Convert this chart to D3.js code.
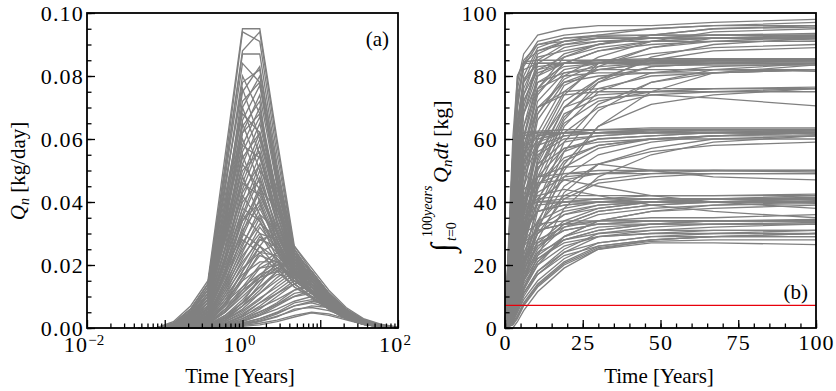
<!DOCTYPE html>
<html>
<head>
<meta charset="utf-8">
<script src="https://cdn.jsdelivr.net/npm/d3@7"></script>
<style>
  body { margin: 0; background: #fff; }
  svg { display: block; }
</style>
</head>
<body>
<svg id="chart" width="836" height="391"></svg>
<script>
// ---- panel (a): Q_n [kg/day] vs time (log axis) ----
// sample times in years
const timeA = [0.0464, 0.0774, 0.129, 0.215, 0.359, 0.599, 1.0, 1.668, 2.78, 4.64, 7.74, 12.9, 21.5, 35.9, 59.9, 100];

// one row per simulated source, values in kg/day
const rateCurves = [
  [0,0,0.002,0.007,0.015,0.055,0.095,0.095,0.060,0.026,0.018,0.011,0.006,0.0025,0.001,0.0002],
  [0,0,0.0015,0.006,0.014,0.050,0.087,0.087,0.052,0.024,0.016,0.010,0.005,0.002,0.0008,0.0002],
  [0,0,0.0015,0.006,0.014,0.052,0.094,0.091,0.055,0.025,0.017,0.010,0.005,0.002,0.0008,0.0002],
  [0,0,0.0015,0.006,0.014,0.050,0.088,0.094,0.058,0.025,0.017,0.010,0.005,0.002,0.0008,0.0002],
  [0,0,0.001,0.005,0.013,0.046,0.076,0.060,0.038,0.022,0.015,0.009,0.0045,0.002,0.0007,0.0001],
  [0,0,0.0012,0.005,0.012,0.044,0.080,0.068,0.042,0.022,0.015,0.009,0.0045,0.0019,0.0007,0.0001],
  [0,0,0.0012,0.0055,0.013,0.048,0.084,0.078,0.048,0.023,0.016,0.0095,0.0048,0.002,0.0007,0.0001],
  [0,0,0.0011,0.005,0.012,0.045,0.078,0.082,0.050,0.024,0.016,0.0095,0.0048,0.002,0.0007,0.0001],
  [0,0,0.001,0.0045,0.011,0.040,0.072,0.078,0.047,0.023,0.016,0.0095,0.0048,0.002,0.0007,0.0001],
  [0,0,0.001,0.0045,0.011,0.040,0.068,0.062,0.040,0.021,0.015,0.009,0.0045,0.0019,0.0007,0.0001],
  [0,0,0.001,0.005,0.012,0.042,0.070,0.055,0.034,0.020,0.014,0.008,0.004,0.0018,0.0006,0.0001],
  [0,0,0.001,0.004,0.011,0.038,0.065,0.050,0.030,0.018,0.013,0.008,0.004,0.0016,0.0006,0.0001],
  [0,0,0.0009,0.004,0.010,0.036,0.062,0.068,0.042,0.022,0.015,0.009,0.0045,0.0018,0.0007,0.0001],
  [0,0,0.001,0.004,0.010,0.035,0.060,0.046,0.028,0.017,0.012,0.007,0.0035,0.0015,0.0005,0.0001],
  [0,0,0.0009,0.004,0.010,0.035,0.058,0.054,0.036,0.020,0.014,0.0085,0.0042,0.0017,0.0006,0.0001],
  [0,0,0.001,0.004,0.009,0.032,0.055,0.040,0.025,0.016,0.011,0.007,0.0035,0.0014,0.0005,0.0001],
  [0,0,0.0008,0.0035,0.009,0.031,0.054,0.062,0.040,0.021,0.014,0.0085,0.0042,0.0017,0.0006,0.0001],
  [0,0,0.0009,0.0035,0.009,0.030,0.052,0.044,0.028,0.017,0.012,0.007,0.0035,0.0015,0.0005,0.0001],
  [0,0,0.0008,0.003,0.008,0.029,0.050,0.056,0.036,0.020,0.014,0.008,0.004,0.0016,0.0006,0.0001],
  [0,0,0.001,0.003,0.008,0.028,0.048,0.036,0.024,0.015,0.011,0.006,0.003,0.0013,0.0005,0.0001],
  [0,0,0.0008,0.003,0.008,0.028,0.046,0.042,0.030,0.018,0.013,0.008,0.004,0.0016,0.0006,0.0001],
  [0,0,0.0007,0.0028,0.007,0.025,0.043,0.052,0.034,0.019,0.013,0.008,0.004,0.0016,0.0006,0.0001],
  [0,0,0.0008,0.003,0.007,0.025,0.042,0.034,0.022,0.014,0.010,0.006,0.003,0.0012,0.0004,0.0001],
  [0,0,0.0007,0.0026,0.0065,0.023,0.040,0.047,0.032,0.019,0.013,0.0078,0.0039,0.0016,0.0006,0.0001],
  [0,0,0.0006,0.0024,0.006,0.021,0.038,0.034,0.025,0.016,0.011,0.0068,0.0034,0.0014,0.0005,0.0001],
  [0,0,0.0007,0.0025,0.006,0.022,0.036,0.030,0.021,0.014,0.010,0.006,0.003,0.0012,0.0004,0.0001],
  [0,0,0.0006,0.0022,0.0055,0.020,0.034,0.043,0.030,0.018,0.012,0.0072,0.0036,0.0015,0.0005,0.0001],
  [0,0,0.0005,0.002,0.005,0.018,0.031,0.039,0.028,0.017,0.012,0.007,0.0035,0.0014,0.0005,0.0001],
  [0,0,0.0006,0.002,0.005,0.018,0.030,0.026,0.019,0.013,0.010,0.006,0.003,0.0012,0.0004,0.0001],
  [0,0,0.0005,0.0019,0.0048,0.017,0.028,0.024,0.018,0.013,0.0095,0.006,0.003,0.0012,0.0004,0.0001],
  [0,0,0.001,0.004,0.010,0.038,0.075,0.083,0.050,0.025,0.017,0.010,0.005,0.002,0.0008,0.0002],
  [0,0,0.001,0.004,0.010,0.036,0.070,0.080,0.048,0.024,0.016,0.010,0.005,0.002,0.0008,0.0002],
  [0,0,0.001,0.004,0.009,0.034,0.066,0.077,0.046,0.023,0.016,0.0095,0.005,0.002,0.0007,0.0002],
  [0,0,0.001,0.003,0.009,0.032,0.062,0.074,0.045,0.023,0.015,0.009,0.0045,0.002,0.0007,0.0001],
  [0,0,0.001,0.0035,0.009,0.033,0.064,0.072,0.036,0.020,0.014,0.0085,0.004,0.0017,0.0006,0.0001],
  [0,0,0.001,0.003,0.008,0.030,0.058,0.070,0.042,0.022,0.015,0.009,0.0045,0.0018,0.0007,0.0001],
  [0,0,0.0008,0.003,0.008,0.028,0.056,0.067,0.040,0.021,0.014,0.0085,0.004,0.0018,0.0006,0.0001],
  [0,0,0.0008,0.003,0.007,0.026,0.052,0.065,0.040,0.021,0.014,0.008,0.004,0.0017,0.0006,0.0001],
  [0,0,0.0008,0.003,0.007,0.025,0.048,0.062,0.038,0.020,0.013,0.008,0.004,0.0016,0.0006,0.0001],
  [0,0,0.0007,0.0025,0.006,0.023,0.046,0.060,0.044,0.023,0.015,0.009,0.0045,0.0018,0.0007,0.0001],
  [0,0,0.0007,0.0025,0.006,0.022,0.044,0.058,0.036,0.020,0.013,0.008,0.004,0.0016,0.0006,0.0001],
  [0,0,0.0007,0.0025,0.006,0.021,0.041,0.055,0.034,0.019,0.013,0.0075,0.0038,0.0015,0.0005,0.0001],
  [0,0,0.0006,0.0022,0.005,0.019,0.038,0.052,0.033,0.019,0.013,0.0075,0.0038,0.0015,0.0005,0.0001],
  [0,0,0.0005,0.002,0.005,0.018,0.036,0.050,0.042,0.022,0.015,0.009,0.0045,0.0018,0.0007,0.0001],
  [0,0,0.0006,0.002,0.005,0.018,0.035,0.048,0.031,0.018,0.012,0.007,0.0035,0.0014,0.0005,0.0001],
  [0,0,0.0005,0.002,0.005,0.016,0.032,0.045,0.030,0.018,0.012,0.007,0.0035,0.0014,0.0005,0.0001],
  [0,0,0.0004,0.0015,0.004,0.014,0.030,0.044,0.038,0.021,0.015,0.009,0.0045,0.0018,0.0007,0.0001],
  [0,0,0.0005,0.0018,0.004,0.015,0.029,0.041,0.028,0.017,0.012,0.007,0.0035,0.0014,0.0005,0.0001],
  [0,0,0.0005,0.0018,0.0045,0.017,0.034,0.040,0.026,0.016,0.011,0.0065,0.0032,0.0013,0.0005,0.0001],
  [0,0,0.0004,0.0015,0.004,0.013,0.026,0.038,0.027,0.017,0.012,0.007,0.0034,0.0013,0.0005,0.0001],
  [0,0,0.0004,0.0016,0.0042,0.015,0.027,0.036,0.031,0.019,0.013,0.0075,0.0037,0.0015,0.0005,0.0001],
  [0,0,0.0004,0.0014,0.0035,0.012,0.024,0.035,0.026,0.017,0.012,0.0068,0.0033,0.0013,0.0005,0.0001],
  [0,0,0.0004,0.0015,0.004,0.014,0.025,0.033,0.029,0.019,0.013,0.0075,0.0037,0.0015,0.0005,0.0001],
  [0,0,0.0003,0.0012,0.003,0.011,0.022,0.032,0.025,0.016,0.011,0.0065,0.0032,0.0013,0.0004,0.0001],
  [0,0,0.0004,0.0014,0.0036,0.013,0.023,0.030,0.028,0.018,0.012,0.007,0.0035,0.0014,0.0005,0.0001],
  [0,0,0.0003,0.001,0.0028,0.010,0.020,0.029,0.024,0.016,0.011,0.0065,0.0032,0.0012,0.0004,0.0001],
  [0,0,0.0003,0.0012,0.0032,0.012,0.021,0.028,0.026,0.018,0.012,0.007,0.0035,0.0014,0.0005,0.0001],
  [0,0,0.0003,0.001,0.0025,0.009,0.018,0.026,0.022,0.015,0.011,0.006,0.003,0.0012,0.0004,0.0001],
  [0,0,0.0003,0.0011,0.003,0.011,0.019,0.024,0.023,0.017,0.012,0.007,0.0035,0.0014,0.0005,0.0001],
  [0,0,0.0002,0.0008,0.002,0.008,0.016,0.023,0.021,0.015,0.011,0.006,0.003,0.0012,0.0004,0.0001],
  [0,0,0.0003,0.001,0.0027,0.010,0.017,0.021,0.021,0.016,0.0115,0.0068,0.0034,0.0014,0.0005,0.0001],
  [0,0,0.0002,0.0009,0.0024,0.009,0.015,0.019,0.020,0.016,0.0115,0.0068,0.0034,0.0014,0.0005,0.0001],
  [0,0,0.0002,0.0008,0.0021,0.008,0.013,0.017,0.019,0.016,0.012,0.007,0.0036,0.0015,0.0005,0.0001],
  [0,0,0.0002,0.0007,0.0018,0.007,0.012,0.016,0.018,0.017,0.013,0.0075,0.0038,0.0015,0.0006,0.0001],
  [0,0,0.0002,0.0008,0.002,0.008,0.018,0.028,0.030,0.020,0.013,0.0075,0.0037,0.0015,0.0005,0.0001],
  [0,0,0.0002,0.0007,0.002,0.0075,0.016,0.026,0.033,0.022,0.014,0.008,0.004,0.0016,0.0006,0.0001],
  [0,0,0.0002,0.0006,0.0018,0.007,0.015,0.024,0.027,0.019,0.013,0.0075,0.0037,0.0015,0.0005,0.0001],
  [0,0,0.0001,0.0005,0.0015,0.006,0.013,0.020,0.024,0.019,0.013,0.007,0.0035,0.0014,0.0005,0.0001],
  [0,0,0.0001,0.0004,0.0013,0.0055,0.012,0.019,0.022,0.017,0.012,0.007,0.0035,0.0014,0.0005,0.0001],
  [0,0,0.0001,0.0004,0.0012,0.005,0.011,0.017,0.021,0.018,0.013,0.007,0.0035,0.0014,0.0005,0.0001],
  [0,0,0.0001,0.0003,0.001,0.004,0.009,0.015,0.019,0.017,0.012,0.007,0.0035,0.0014,0.0005,0.0001],
  [0,0,0.0001,0.0003,0.0008,0.0035,0.008,0.013,0.017,0.016,0.012,0.0068,0.0034,0.0014,0.0005,0.0001],
  [0,0,0.0002,0.0006,0.0015,0.006,0.011,0.016,0.020,0.021,0.016,0.0095,0.0048,0.002,0.0007,0.0002],
  [0,0,0.0001,0.0005,0.0012,0.005,0.010,0.015,0.019,0.022,0.017,0.010,0.0052,0.0021,0.0008,0.0002],
  [0,0,0.0001,0.0004,0.001,0.004,0.008,0.013,0.018,0.023,0.018,0.011,0.0055,0.0023,0.0009,0.0002],
  [0,0,0,0.0002,0.0006,0.003,0.008,0.016,0.024,0.026,0.019,0.012,0.0065,0.003,0.0012,0.0003],
  [0,0,0,0.0002,0.0005,0.0025,0.007,0.014,0.021,0.024,0.018,0.011,0.006,0.0027,0.001,0.0003],
  [0,0,0,0.0003,0.0008,0.003,0.007,0.012,0.018,0.022,0.017,0.010,0.005,0.0021,0.0008,0.0002],
  [0,0,0,0.0002,0.0006,0.0025,0.006,0.011,0.016,0.020,0.018,0.011,0.0055,0.0022,0.0008,0.0002],
  [0,0,0.0001,0.0003,0.0008,0.0032,0.007,0.011,0.015,0.019,0.018,0.011,0.0058,0.0024,0.0009,0.0002],
  [0,0,0,0.0002,0.0005,0.002,0.005,0.009,0.014,0.018,0.017,0.011,0.0055,0.0022,0.0008,0.0002],
  [0,0,0,0.0002,0.0006,0.0025,0.0055,0.0095,0.013,0.017,0.017,0.011,0.0058,0.0024,0.0009,0.0002],
  [0,0,0,0.0001,0.0004,0.0015,0.004,0.008,0.012,0.016,0.016,0.010,0.005,0.002,0.0008,0.0002],
  [0,0,0,0.0001,0.0003,0.0015,0.0035,0.007,0.011,0.015,0.014,0.009,0.0048,0.002,0.0007,0.0002],
  [0,0,0,0.0002,0.0005,0.002,0.0045,0.008,0.011,0.014,0.016,0.011,0.0058,0.0024,0.0009,0.0002],
  [0,0,0,0.0001,0.0003,0.0012,0.003,0.006,0.010,0.014,0.015,0.010,0.005,0.002,0.0008,0.0002],
  [0,0,0,0.0001,0.0004,0.0016,0.0038,0.0065,0.009,0.012,0.014,0.0105,0.0056,0.0023,0.0009,0.0002],
  [0,0,0,0.0001,0.0002,0.001,0.0025,0.005,0.008,0.012,0.013,0.009,0.0048,0.002,0.0007,0.0002],
  [0,0,0,0.0001,0.0003,0.0012,0.003,0.0052,0.0075,0.010,0.012,0.0095,0.0052,0.0022,0.0008,0.0002],
  [0,0,0,0,0.0002,0.0009,0.0022,0.0045,0.0075,0.011,0.012,0.0085,0.0045,0.0019,0.0007,0.0002],
  [0,0,0,0,0.0002,0.0008,0.002,0.004,0.007,0.010,0.011,0.008,0.0045,0.0019,0.0007,0.0002],
  [0,0,0,0.0001,0.0002,0.0009,0.0022,0.004,0.006,0.0085,0.010,0.0085,0.0048,0.002,0.0008,0.0002],
  [0,0,0,0,0.0001,0.0006,0.0015,0.003,0.005,0.008,0.009,0.007,0.004,0.0017,0.0006,0.0002],
  [0,0,0,0,0.0002,0.0007,0.0017,0.003,0.0048,0.007,0.0085,0.0075,0.0044,0.0019,0.0007,0.0002],
  [0,0,0,0,0.0001,0.0005,0.0013,0.0025,0.0045,0.007,0.008,0.0065,0.0038,0.0016,0.0006,0.0001],
  [0,0,0,0,0.0001,0.0005,0.0012,0.0022,0.0038,0.0055,0.007,0.0065,0.004,0.0017,0.0007,0.0001],
  [0,0,0,0,0.0001,0.0004,0.001,0.002,0.0035,0.006,0.0065,0.0055,0.0035,0.0015,0.0006,0.0001],
  [0,0,0,0,0.0001,0.0003,0.0008,0.0015,0.0025,0.004,0.005,0.0045,0.003,0.0013,0.0005,0.0001],
  [0,0,0,0,0,0.0002,0.0005,0.001,0.002,0.0035,0.0048,0.004,0.0026,0.0012,0.0005,0.0001]
];

const yTicksA = [0, 0.02, 0.04, 0.06, 0.08, 0.10];
const yTickLabelsA = ["0.00", "0.02", "0.04", "0.06", "0.08", "0.10"];
const xDecadesA = [0.01, 0.1, 1, 10, 100];
const xLabelExpA = [[0.01, "\u22122"], [1, "0"], [100, "2"]];

// ---- panel (b): cumulative mass [kg] vs time (linear axis) ----
const timeB = [0, 2.5, 4, 6, 10.5, 19, 30, 47, 67, 100];

const massCurves = [
  [0,50,78,87,93,95,96,96,97,98],
  [0,42,70,84,91,93,94,95,96,97],
  [0,30,55,74,87,91,93,95,96,96],
  [0,34,60,76,86,88,90,93,95,95.5],
  [0,20,40,60,80,87,90,93,95,96],
  [0,12,26,45,68,80,86,91,94,95],
  [0,55,76,85,90,92,93,93,93,93.5],
  [0,45,70,83,90,91,92,92,92,92],
  [0,40,64,80,89,92,92.5,93,93,93],
  [0,36,62,78,88,91,92,92,93,92.5],
  [0,28,52,70,85,90,92,92,92,91.5],
  [0,26,48,68,84,89,91,92,93,93],
  [0,18,36,55,74,84,88,91,92,93],
  [0,16,34,54,76,86,90,92,92,92.5],
  [0,10,22,38,60,75,83,89,92,92],
  [0,9,20,36,58,74,84,89,91,92.5],
  [0,6,14,27,48,66,78,86,90,92],
  [0,32,56,72,82,86,89,91,92,92],
  [0,48,72,84,88,90,91,91,91,91],
  [0,22,42,60,76,84,88,90,91,91],
  [0,14,30,48,68,79,84,87,89,90],
  [0,8,18,32,54,70,79,85,88,89],
  [0,52,74,82,84,84,84,84,84,84],
  [0,55,80,84.5,85,85,85,85,85,85],
  [0,44,66,79,84,84,84,85,85,85],
  [0,40,62,78,84,84,84.5,84.5,84.5,84.5],
  [0,36,58,74,83,84,84,84,84,84],
  [0,32,54,72,82,84,85,85.5,85.5,85.5],
  [0,28,50,68,81,84,84,85,85,85],
  [0,26,46,64,80,84,84,83.5,83.5,83.5],
  [0,22,42,61,78,83,84,84,85,85],
  [0,18,37,57,75,82,84,84.5,85,85.5],
  [0,16,33,52,72,81,83,84,84,85],
  [0,12,26,44,66,78,82,84,85,85],
  [0,10,23,40,62,77,82,84,84.5,84.5],
  [0,8,19,35,57,72,79,83,84,85],
  [0,7,17,31,53,70,78,83,84,84],
  [0,5,13,26,46,64,75,81,83,84],
  [0,3,9,19,37,56,69,78,82,84],
  [0,2,7,15,31,50,64,75,81,83.5],
  [0,60,80,84,84,84,85,85,85,85],
  [0,14,30,50,70,78,80,81,81,82],
  [0,6,15,29,50,67,76,80,81,82],
  [0,4,10,21,40,59,71,78,81,82],
  [0,25,46,64,76,80,81,81,82,82],
  [0,30,52,68,78,81,82,82,82,81.5],
  [0,10,22,38,58,70,74,75,76,76],
  [0,5,13,25,44,62,70,74,75,76],
  [0,20,40,58,70,74,75,75,75,75],
  [0,18,36,54,70,75,76,76,76,76.5],
  [0,7,16,30,50,65,72,75,76,76],
  [0,3,8,17,33,52,64,71,74,76],
  [0,8,18,32,52,68,73,74,73,70.5],
  [0,45,58,61,62,62,62,63,63,63],
  [0,50,60,62,62,62,62,62,62,62],
  [0,48,60,62,62.5,63,63,63,63,63],
  [0,42,56,61,62,63,63,63.5,63.5,63.5],
  [0,38,53,60,62,62,62,62,62,62],
  [0,34,50,58,61.5,62,62,62,62,62],
  [0,30,47,57,61,62,62,62,63,63],
  [0,27,44,55,61,62,62,62.5,62.5,62.5],
  [0,24,41,53,60,62,62,62,62,62],
  [0,21,37,50,59,62,62,63,63,63],
  [0,18,34,48,58,61,62,62,63,63],
  [0,16,31,45,56,61,62,62,62,61.5],
  [0,14,28,42,55,60,61,62,62,63],
  [0,12,24,38,52,59,61,62,62,62],
  [0,10,21,34,48,57,60,61,62,62],
  [0,9,19,31,45,54,58,60,61,61],
  [0,8,17,29,45,56,60,61,62,62.5],
  [0,7,15,26,41,53,58,60,61,62],
  [0,6,13,23,38,51,57,60,61,62],
  [0,5,11,20,34,48,55,59,61,62],
  [0,3,8,15,28,43,52,57,60,61],
  [0,2,6,12,23,38,48,55,59,61],
  [0,20,38,52,60,62,63,63,63,63],
  [0,55,61,62,62,62,63,63,63,63],
  [0,12,25,38,51,57,59,60,60,60],
  [0,4,10,19,32,45,52,56,58,59],
  [0,8,17,28,40,47,49,50,50,50],
  [0,14,26,37,46,49,50,50,50,50],
  [0,11,22,33,43,48,49,50,50,49.5],
  [0,6,13,22,33,42,47,49,50,50],
  [0,4,10,18,30,41,46,48,49,49],
  [0,16,30,41,48,51,52,50,48,47],
  [0,24,36,44,48,49,49,49,49,49],
  [0,10,20,30,37,39,40,40,41,41],
  [0,6,13,21,30,36,38,40,40,40],
  [0,3,8,15,24,32,36,38,39,40],
  [0,15,27,35,39,40,40,41,41,41],
  [0,25,35,39,40,41,41,41,41,41.5],
  [0,2,6,12,20,29,34,37,38,39],
  [0,20,32,38,40,40,41,41,41,41],
  [0,12,23,32,37,39,40,40,40,40],
  [0,9,18,27,34,38,40,41,41,40.5],
  [0,7,14,22,30,36,39,40,40,41],
  [0,4,10,17,26,33,37,39,40,41],
  [0,3,7,13,21,29,34,37,39,39.5],
  [0,18,30,40,46,47,45,42,40,38],
  [0,5,11,18,27,34,38,40,41,42],
  [0,8,16,24,32,37,39,40,41,41],
  [0,12,22,31,37,40,41,42,42,42],
  [0,16,28,37,41,42,42,42,42,42.5],
  [0,4,9,16,25,33,37,39,40,40],
  [0,14,26,36,42,44,42,39,37,35],
  [0,6,12,19,26,31,33,33,34,34],
  [0,3,8,14,21,28,31,33,33,33],
  [0,10,19,26,31,33,33,34,34,34],
  [0,4,9,15,22,28,31,33,33,33.5],
  [0,7,14,21,27,31,33,34,34,34],
  [0,15,24,30,33,34,34,34,34,34.5],
  [0,2,5,10,17,24,29,31,32,33],
  [0,2,6,11,18,25,30,32,33,33],
  [0,8,15,22,28,32,34,35,35,36],
  [0,5,10,16,23,29,32,33,34,34],
  [0,12,20,27,31,33,34,34,34,34],
  [0,1.5,4,8,14,21,26,28,29,30],
  [0,3,6,11,17,23,26,28,29,30],
  [0,0,2,5.5,11.5,19,25,27,27,26.5],
  [0,4,9,15,22,27,29,30,31,31],
  [0,5,11,17,24,28,30,31,31,31],
  [0,1,3.5,7.5,13.5,20.5,25.5,27.5,28,28],
  [0,1,3,7,13,20,25,28,29,29],
  [0,2.5,6,11,18,24,27,29,29,29],
  [0,2,5,9,15,22,27,29,30,30],
  [0,3,7,13,20,26,29,30,30,31]
];

const thresholdKg = 7.2;
const yTicksB = [0, 20, 40, 60, 80, 100];
const xTicksB = [0, 25, 50, 75, 100];

const grey = "#808080";
const serif = "'Liberation Serif', 'Times New Roman', serif";

const svg = d3.select("#chart");

function stripDomain(g) { g.select(".domain").remove(); }

function styleTicks(g) {
  g.selectAll(".tick line").attr("stroke", "#000").attr("stroke-width", 1.3);
  g.selectAll(".tick text")
    .attr("font-family", serif).attr("font-size", 22)
    .attr("letter-spacing", 1.2).attr("fill", "#000");
}

// ============ panel (a) ============
const xA = d3.scaleLog().domain([0.01, 100]).range([87, 398]);
const yA = d3.scaleLinear().domain([0, 0.1]).range([328, 13]);

const gA = svg.append("g");

const lineA = d3.line()
  .x((d, i) => xA(timeA[i]))
  .y(d => yA(d));

gA.append("g")
  .selectAll("path")
  .data(rateCurves)
  .enter().append("path")
  .attr("d", lineA)
  .attr("fill", "none")
  .attr("stroke", grey)
  .attr("stroke-width", 1.35);

// minor log ticks
let minorA = [];
xDecadesA.slice(0, -1).forEach(dec => {
  for (let k = 2; k <= 9; k++) minorA.push(dec * k);
});

gA.append("g").attr("transform", "translate(0,328)")
  .call(d3.axisBottom(xA).tickValues(minorA).tickSize(-4.5).tickFormat(""))
  .call(stripDomain).call(styleTicks);
gA.append("g").attr("transform", "translate(0,328)")
  .call(d3.axisBottom(xA).tickValues(xDecadesA).tickSize(-8).tickFormat(""))
  .call(stripDomain).call(styleTicks);

// 10^n labels
xLabelExpA.forEach(([v, e]) => {
  const t = gA.append("text")
    .attr("x", xA(v) - 3)
    .attr("y", 352)
    .attr("text-anchor", "middle")
    .attr("font-family", serif)
    .attr("font-size", 22)
    .attr("letter-spacing", 1.2);
  t.append("tspan").text("10");
  t.append("tspan").attr("dy", -7).attr("font-size", 15).attr("letter-spacing", 0).text(e);
});

let minorYA = d3.range(0, 0.1001, 0.005);
gA.append("g").attr("transform", "translate(87,0)")
  .call(d3.axisLeft(yA).tickValues(minorYA).tickSize(-4.5).tickFormat(""))
  .call(stripDomain).call(styleTicks);
gA.append("g").attr("transform", "translate(87,0)")
  .call(d3.axisLeft(yA).tickValues(yTicksA).tickSize(-8).tickPadding(3)
    .tickFormat((d, i) => yTickLabelsA[i]))
  .call(stripDomain).call(styleTicks);

gA.append("rect")
  .attr("x", 87).attr("y", 13).attr("width", 311).attr("height", 315)
  .attr("fill", "none").attr("stroke", "#000").attr("stroke-width", 1.8);

gA.append("text")
  .attr("x", 389).attr("y", 46)
  .attr("text-anchor", "end")
  .attr("font-family", serif).attr("font-size", 21)
  .text("(a)");

gA.append("text")
  .attr("x", 240).attr("y", 383)
  .attr("text-anchor", "middle")
  .attr("font-family", serif).attr("font-size", 21)
  .text("Time [Years]");

const ylabA = gA.append("text")
  .attr("transform", "translate(25,171) rotate(-90)")
  .attr("text-anchor", "middle")
  .attr("font-family", serif).attr("font-size", 21);
ylabA.append("tspan").attr("font-style", "italic").text("Q");
ylabA.append("tspan").attr("font-style", "italic").attr("font-size", 14).attr("dy", 4).text("n");
ylabA.append("tspan").attr("dy", -4).text(" [kg/day]");

// ============ panel (b) ============
const xB = d3.scaleLinear().domain([0, 100]).range([505, 816]);
const yB = d3.scaleLinear().domain([0, 100]).range([328, 13]);

const gB = svg.append("g");

const lineB = d3.line()
  .x((d, i) => xB(timeB[i]))
  .y(d => yB(d));

gB.append("g")
  .selectAll("path")
  .data(massCurves)
  .enter().append("path")
  .attr("d", lineB)
  .attr("fill", "none")
  .attr("stroke", grey)
  .attr("stroke-width", 1.3);

gB.append("line")
  .attr("x1", xB(0)).attr("x2", xB(100))
  .attr("y1", yB(thresholdKg)).attr("y2", yB(thresholdKg))
  .attr("stroke", "#e8000b").attr("stroke-width", 1.2);

gB.append("g").attr("transform", "translate(0,328)")
  .call(d3.axisBottom(xB).tickValues(d3.range(0, 101, 5)).tickSize(-4.5).tickFormat(""))
  .call(stripDomain).call(styleTicks);
gB.append("g").attr("transform", "translate(0,328)")
  .call(d3.axisBottom(xB).tickValues(xTicksB).tickSize(-8).tickPadding(6).tickFormat(d3.format("d")))
  .call(stripDomain).call(styleTicks);

gB.append("g").attr("transform", "translate(505,0)")
  .call(d3.axisLeft(yB).tickValues(d3.range(0, 101, 5)).tickSize(-4.5).tickFormat(""))
  .call(stripDomain).call(styleTicks);
gB.append("g").attr("transform", "translate(505,0)")
  .call(d3.axisLeft(yB).tickValues(yTicksB).tickSize(-8).tickPadding(7).tickFormat(d3.format("d")))
  .call(stripDomain).call(styleTicks);

gB.append("rect")
  .attr("x", 505).attr("y", 13).attr("width", 311).attr("height", 315)
  .attr("fill", "none").attr("stroke", "#000").attr("stroke-width", 1.8);

gB.append("text")
  .attr("x", 808).attr("y", 299)
  .attr("text-anchor", "end")
  .attr("font-family", serif).attr("font-size", 21)
  .text("(b)");

gB.append("text")
  .attr("x", 659).attr("y", 383)
  .attr("text-anchor", "middle")
  .attr("font-family", serif).attr("font-size", 21)
  .text("Time [Years]");

// integral label, built in a rotated frame
const ylabB = gB.append("g")
  .attr("transform", "translate(448,252) rotate(-90)")
  .attr("font-family", serif);
ylabB.append("text").attr("x", 0).attr("y", 5).attr("font-size", 32).text("\u222B");
const sub = ylabB.append("text").attr("x", 11).attr("y", 8).attr("font-size", 14);
sub.append("tspan").attr("font-style", "italic").text("t");
sub.append("tspan").text("=0");
const sup = ylabB.append("text").attr("x", 15).attr("y", -16).attr("font-size", 14);
sup.append("tspan").text("100");
sup.append("tspan").attr("font-style", "italic").text("years");
const main = ylabB.append("text").attr("x", 69).attr("y", 0).attr("font-size", 22);
main.append("tspan").attr("font-style", "italic").text("Q");
main.append("tspan").attr("font-style", "italic").attr("font-size", 15).attr("dy", 4).text("n");
main.append("tspan").attr("font-style", "italic").attr("dy", -4).text("dt");
main.append("tspan").text(" [kg]");
</script>
</body>
</html>
